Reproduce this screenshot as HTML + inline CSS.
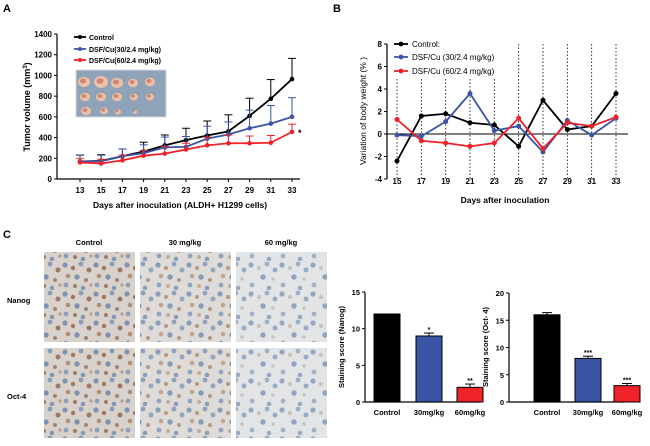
<!DOCTYPE html>
<html><head><meta charset="utf-8"><style>
html,body{margin:0;padding:0;background:#fff}
svg{display:block;font-family:"Liberation Sans",Arial,sans-serif}
</style></head><body>
<svg id="fig" width="650" height="446" viewBox="0 0 650 446" xmlns="http://www.w3.org/2000/svg">
<defs>
<pattern id="cellsA" width="31" height="29" patternUnits="userSpaceOnUse">
<rect width="31" height="29" fill="#d9d2cc"/>
<circle cx="3" cy="4" r="2.6" fill="#8093b0"/><circle cx="11" cy="7" r="2.2" fill="#a07860"/>
<circle cx="19" cy="3" r="2.4" fill="#8a9cb8"/><circle cx="27" cy="9" r="2.5" fill="#9a7a66"/>
<circle cx="6" cy="15" r="2.3" fill="#b08e78"/><circle cx="15" cy="16" r="2.7" fill="#7f93b0"/>
<circle cx="24" cy="19" r="2" fill="#a48470"/><circle cx="4" cy="24" r="2.4" fill="#8d9fba"/>
<circle cx="13" cy="25" r="2" fill="#9c7c68"/><circle cx="21" cy="27" r="2.3" fill="#8496b2"/>
<circle cx="29" cy="24" r="1.6" fill="#b99e88"/>
</pattern>
<pattern id="cellsB" width="31" height="29" patternUnits="userSpaceOnUse">
<rect width="31" height="29" fill="#dedbd8"/>
<circle cx="3" cy="4" r="2.6" fill="#8a9dba"/><circle cx="11" cy="7" r="2" fill="#b89880"/>
<circle cx="19" cy="3" r="2.4" fill="#8fa1bc"/><circle cx="27" cy="9" r="2.5" fill="#94a6c0"/>
<circle cx="6" cy="15" r="2.3" fill="#c0a690"/><circle cx="15" cy="16" r="2.7" fill="#879ab6"/>
<circle cx="24" cy="19" r="2" fill="#b49a86"/><circle cx="4" cy="24" r="2.4" fill="#92a4be"/>
<circle cx="13" cy="25" r="2" fill="#c0ac9c"/><circle cx="21" cy="27" r="2.3" fill="#8a9db8"/>
</pattern>
<pattern id="cellsC" width="31" height="29" patternUnits="userSpaceOnUse">
<rect width="31" height="29" fill="#e3e4e6"/>
<circle cx="3" cy="4" r="2.6" fill="#93a7c0"/><circle cx="11" cy="7" r="2" fill="#c9c2ba"/>
<circle cx="19" cy="3" r="2.4" fill="#9cb0c8"/><circle cx="27" cy="9" r="2.5" fill="#98abc4"/>
<circle cx="15" cy="16" r="2.7" fill="#8fa3be"/><circle cx="4" cy="24" r="2.4" fill="#a0b2ca"/>
<circle cx="21" cy="27" r="2.3" fill="#96a9c2"/><circle cx="25" cy="18" r="1.8" fill="#c8c4c0"/>
</pattern>
</defs>
<g id="pA"></g>
<g id="pB"></g>
<g id="pC"></g>
</svg>
<script>
// Panel A data
const daysA = [13,15,17,19,21,23,25,27,29,31,33];
const ctrlA = [170,175,220,265,325,375,420,460,610,775,965];
const ctrlErrA = [60,60,70,90,100,115,140,160,170,185,200];
const lowA = [170,170,220,250,305,310,390,430,490,535,600];
const lowErrA = [60,60,70,80,100,100,120,120,175,175,185];
const highA = [160,150,180,225,245,285,325,345,345,350,455];
const highErrA = [40,40,50,50,70,60,80,80,70,70,75];
const yTicksA = [0,200,400,600,800,1000,1200,1400];
// Panel B data
const daysB = [15,17,19,21,23,25,27,29,31,33];
const ctrlB = [-2.4,1.6,1.8,1.0,0.8,-1.1,3.0,0.4,0.7,3.6];
const lowB = [-0.1,-0.2,1.1,3.6,0.3,0.7,-1.6,1.2,-0.1,1.4];
const highB = [1.3,-0.6,-0.8,-1.1,-0.8,1.4,-1.3,1.0,0.7,1.5];
const yTicksB = [-4,-2,0,2,4,6,8];
// Panel C data
const barCats = ["Control","30mg/kg","60mg/kg"];
const nanogVals = [12,9,2];
const nanogErr = [0,0.4,0.45];
const nanogSig = ["","*","**"];
const octVals = [16,8,3];
const octErr = [0.4,0.4,0.4];
const octSig = ["","***","***"];
const nanogTicks = [0,5,10,15];
const octTicks = [0,5,10,15,20];

const NS="http://www.w3.org/2000/svg";
function mk(parent,tag,attrs,text){const e=document.createElementNS(NS,tag);for(const k in attrs)e.setAttribute(k,attrs[k]);if(text!==undefined)e.textContent=text;parent.appendChild(e);return e;}
const BLK="#000",BLU="#3a55a6",RED="#ee2228";

// ---------- Panel A ----------
const A=document.getElementById('pA');
const axA={x0:57,y0:179,yTop:34};
const xA=d=>80+(d-13)*(292-80)/20;
const yA=v=>axA.y0-v*(axA.y0-axA.yTop)/1400;
let t=mk(A,'text',{x:3,y:12,'font-size':11,'font-weight':'bold'},'A');


mk(A,'line',{x1:axA.x0,y1:axA.yTop,x2:axA.x0,y2:axA.y0,stroke:'#000','stroke-width':1.2});
mk(A,'line',{x1:axA.x0,y1:axA.y0,x2:300,y2:axA.y0,stroke:'#000','stroke-width':1.2});
yTicksA.forEach(v=>{mk(A,'line',{x1:axA.x0-3,y1:yA(v),x2:axA.x0,y2:yA(v),stroke:'#000'});
 const l=mk(A,'text',{x:axA.x0-5,y:yA(v)+3,'font-size':8,'font-weight':'bold','text-anchor':'end'},v);
 
 });
daysA.forEach(d=>{mk(A,'line',{x1:xA(d),y1:axA.y0,x2:xA(d),y2:axA.y0+3,stroke:'#000'});
 const l=mk(A,'text',{x:xA(d),y:193,'font-size':8,'font-weight':'bold','text-anchor':'middle'},d);
 
 });
t=mk(A,'text',{x:180,y:208,'font-size':8.5,'font-weight':'bold','text-anchor':'middle'},'Days after inoculation (ALDH+ H1299 cells)');


t=mk(A,'text',{x:0,y:0,'font-size':9,'font-weight':'bold','text-anchor':'middle',transform:'translate(30,107) rotate(-90)'});


t.innerHTML='Tumor volume (mm<tspan dy="-3" font-size="6">3</tspan><tspan dy="3">)</tspan>';
// photo inset
let ph=mk(A,'rect',{x:76,y:70,width:90,height:47,fill:'#8fa3b8',stroke:'#d0d8e0'});


[[84,82,6],[101,82,7],[117,83,6],[133,83,5],[150,82,5],[85,97,5],[101,97,5],[117,97,5],[134,97,4],[150,97,4],[86,111,5],[104,111,4],[118,112,3],[135,112,2]].forEach(c=>{
 mk(A,'ellipse',{cx:c[0],cy:c[1],rx:c[2],ry:c[2]*0.85,fill:'#eac0a8'});
 mk(A,'ellipse',{cx:c[0]-1,cy:c[1]-1,rx:c[2]*0.5,ry:c[2]*0.4,fill:'#b84a3c',opacity:0.5});});
function seriesA(vals,errs,col,name){
 const g=mk(A,'g',{});
 
 
 daysA.forEach((d,i)=>{const x=xA(d);mk(g,'line',{x1:x,y1:yA(vals[i]),x2:x,y2:yA(vals[i]+errs[i]),stroke:col,'stroke-width':1});
  mk(g,'line',{x1:x-4,y1:yA(vals[i]+errs[i]),x2:x+4,y2:yA(vals[i]+errs[i]),stroke:col,'stroke-width':1});});
 mk(g,'polyline',{points:daysA.map((d,i)=>xA(d)+','+yA(vals[i])).join(' '),fill:'none',stroke:col,'stroke-width':1.8});
 daysA.forEach((d,i)=>{const p=mk(g,'circle',{cx:xA(d),cy:yA(vals[i]),r:2.3,fill:col});
  
  });
}
seriesA(ctrlA,ctrlErrA,BLK,'series-control');
seriesA(lowA,lowErrA,BLU,'series-30mg');
seriesA(highA,highErrA,RED,'series-60mg');
t=mk(A,'text',{x:298,y:136,'font-size':9,'font-weight':'bold'},'*');


[['Control',BLK,37],['DSF/Cu(30/2.4 mg/kg)',BLU,49],['DSF/Cu(60/2.4 mg/kg)',RED,60]].forEach(L=>{
 const g=mk(A,'g',{});
 
 
 mk(g,'line',{x1:74,y1:L[2],x2:86,y2:L[2],stroke:L[1],'stroke-width':1.8});
 mk(g,'circle',{cx:80,cy:L[2],r:2,fill:L[1]});
 mk(g,'text',{x:89,y:L[2]+3,'font-size':7,'font-weight':'bold'},L[0]);});

// ---------- Panel B ----------
const B=document.getElementById('pB');
const xB=d=>397+(d-15)*(616-397)/18;
const yB=v=>134-v*(179-44)/12;
t=mk(B,'text',{x:333,y:12,'font-size':11,'font-weight':'bold'},'B');


mk(B,'line',{x1:387,y1:yB(8),x2:387,y2:yB(-4),stroke:'#000','stroke-width':1.2});
mk(B,'line',{x1:387,y1:yB(0),x2:628,y2:yB(0),stroke:'#000','stroke-width':1});
yTicksB.forEach(v=>{mk(B,'line',{x1:384,y1:yB(v),x2:387,y2:yB(v),stroke:'#000'});
 const l=mk(B,'text',{x:382,y:yB(v)+3,'font-size':8,'font-weight':'bold','text-anchor':'end'},v);
 
 });
daysB.forEach(d=>{mk(B,'line',{x1:xB(d),y1:yB(8),x2:xB(d),y2:yB(-4),stroke:'#000','stroke-width':0.8,'stroke-dasharray':'1.5,2'});
 const l=mk(B,'text',{x:xB(d),y:184,'font-size':8,'font-weight':'bold','text-anchor':'middle'},d);
 
 });
t=mk(B,'text',{x:505,y:203,'font-size':8.5,'font-weight':'bold','text-anchor':'middle'},'Days after inoculation');


t=mk(B,'text',{x:0,y:0,'font-size':8.5,'text-anchor':'middle',transform:'translate(366,111) rotate(-90)'},'Variation of body weight (% )');


function seriesB(vals,col,name){
 const g=mk(B,'g',{});
 
 
 mk(g,'polyline',{points:daysB.map((d,i)=>xB(d)+','+yB(vals[i])).join(' '),fill:'none',stroke:col,'stroke-width':1.8});
 daysB.forEach((d,i)=>{const p=mk(g,'circle',{cx:xB(d),cy:yB(vals[i]),r:2.5,fill:col});
  
  });
}
seriesB(ctrlB,BLK,'series-control');
seriesB(lowB,BLU,'series-30mg');
seriesB(highB,RED,'series-60mg');
[['Control:',BLK,44],['DSF/Cu (30/2.4 mg/kg)',BLU,57],['DSF/Cu (60/2.4 mg/kg)',RED,71]].forEach(L=>{
 const g=mk(B,'g',{});
 
 
 mk(g,'rect',{x:393,y:L[2]-6,width:120,height:12,fill:'#fff'});
 mk(g,'line',{x1:394,y1:L[2],x2:408,y2:L[2],stroke:L[1],'stroke-width':1.8});
 mk(g,'circle',{cx:401,cy:L[2],r:2.4,fill:L[1]});
 mk(g,'text',{x:412,y:L[2]+3,'font-size':8},L[0]);});

// ---------- Panel C ----------
const C=document.getElementById('pC');
t=mk(C,'text',{x:3,y:238,'font-size':11,'font-weight':'bold'},'C');


const colX=[44,140,236], rowY=[252,348], fills=['url(#cellsA)','url(#cellsB)','url(#cellsC)'];
['Control','30 mg/kg','60 mg/kg'].forEach((s,i)=>{const l=mk(C,'text',{x:colX[i]+45,y:245,'font-size':7.5,'font-weight':'bold','text-anchor':'middle'},s);
 
 });
['Nanog','Oct-4'].forEach((s,i)=>{const l=mk(C,'text',{x:7,y:rowY[i]+51,'font-size':7.5,'font-weight':'bold'},s);
 
 });
rowY.forEach((y,r)=>colX.forEach((x,c)=>{const im=mk(C,'rect',{x:x,y:y,width:91,height:90,fill:fills[c]});
 
 }));
function barChart(ax,ymax,ticks,vals,errs,sig,barX,title,name){
 const g=mk(C,'g',{});
 
 
 const y=v=>402-v*(402-ax.top)/ymax;
 mk(g,'line',{x1:ax.x,y1:ax.top,x2:ax.x,y2:402,stroke:'#000','stroke-width':1.2});
 mk(g,'line',{x1:ax.x,y1:402,x2:ax.x+115,y2:402,stroke:'#000','stroke-width':1.2});
 ticks.forEach(v=>{mk(g,'line',{x1:ax.x-3,y1:y(v),x2:ax.x,y2:y(v),stroke:'#000'});
  const l=mk(g,'text',{x:ax.x-5,y:y(v)+3,'font-size':7.5,'font-weight':'bold','text-anchor':'end'},v);
  
  });
 const cols=[BLK,BLU,RED];
 vals.forEach((v,i)=>{const bx=barX[i];
  if(errs[i]>0){mk(g,'line',{x1:bx+13,y1:y(v),x2:bx+13,y2:y(v+errs[i]),stroke:'#000'});
   mk(g,'line',{x1:bx+8,y1:y(v+errs[i]),x2:bx+18,y2:y(v+errs[i]),stroke:'#000'});}
  const b=mk(g,'rect',{x:bx,y:y(v),width:26,height:402-y(v),fill:cols[i],stroke:'#000','stroke-width':1});
  
  
  if(sig[i]){const s=mk(g,'text',{x:bx+13,y:y(v+errs[i])-1,'font-size':7,'font-weight':'bold','text-anchor':'middle'},sig[i]);
   
   }
  const l=mk(g,'text',{x:bx+13,y:415,'font-size':7.5,'font-weight':'bold','text-anchor':'middle'},barCats[i]);
  
  });
 const tt=mk(g,'text',{x:0,y:0,'font-size':7.5,'font-weight':'bold','text-anchor':'middle',transform:'translate('+(ax.x-21)+',347) rotate(-90)'},title);
 
 
}
barChart({x:365,top:292},15,nanogTicks,nanogVals,nanogErr,nanogSig,[374,416,457],'Staining score (Nanog)','nanog-bar-chart');
barChart({x:509,top:293},20,octTicks,octVals,octErr,octSig,[534,575,614],'Staining score (Oct- 4)','oct4-bar-chart');
</script>
</body></html>
